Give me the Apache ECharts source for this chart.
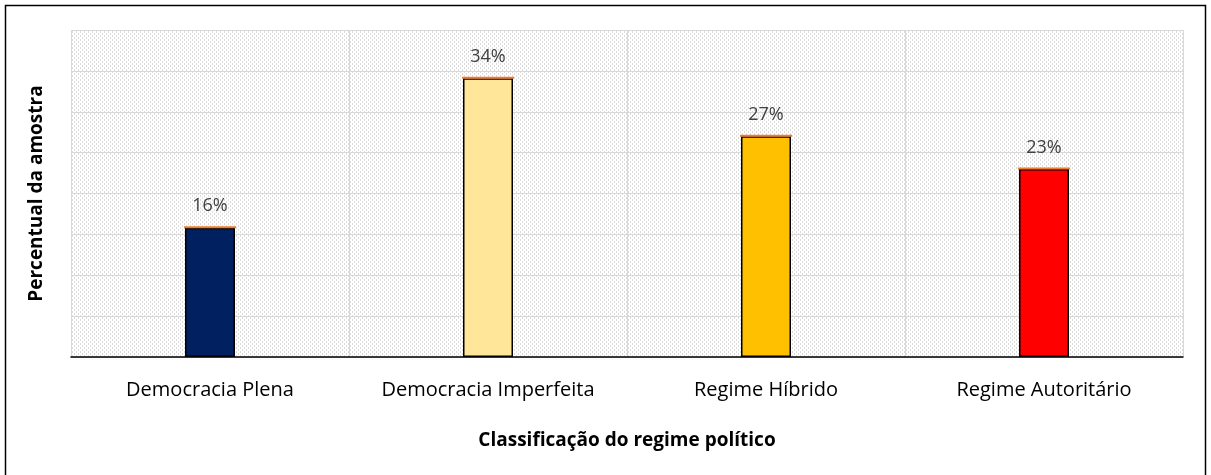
<!DOCTYPE html>
<html>
<head>
<meta charset="utf-8">
<script src="https://cdn.jsdelivr.net/npm/echarts@6/dist/echarts.min.js"></script>
<style>
  html, body { margin: 0; padding: 0; background: #fff; }
  #chart { width: 1211px; height: 475px; }
</style>
</head>
<body>
<div id="chart"></div>
<script>
// chart data
const categories = ["Democracia Plena", "Democracia Imperfeita", "Regime Híbrido", "Regime Autoritário"];
const percentValues = [15.8, 34.1, 27.0, 23.0];
const percentLabels = ["16%", "34%", "27%", "23%"];
const barColors = ["#002060", "#FFE699", "#FFC000", "#FF0000"];

// hatched background tile for the plot area
function makeHatch() {
  const c = document.createElement("canvas");
  c.width = 8;
  c.height = 8;
  const ctx = c.getContext("2d");
  ctx.fillStyle = "#ffffff";
  ctx.fillRect(0, 0, 8, 8);
  ctx.fillStyle = "#dadada";
  for (let y = 0; y < 8; y++) {
    for (let x = 0; x < 8; x++) {
      const d = (x - y + 16) % 4;
      if (d === 0 && (x + y) % 4 === 0) ctx.fillRect(x, y, 1, 1);
      if (d === 1 && (x + y) % 4 === 3) ctx.fillRect(x, y, 1, 1);
    }
  }
  return c;
}

const chart = echarts.init(document.getElementById("chart"));

const option = {
  animation: false,
  textStyle: { fontFamily: "Open Sans, Noto Sans, sans-serif" },
  graphic: [
    {
      type: "rect",
      shape: { x: 5.5, y: 5.5, width: 1200, height: 480 },
      style: { fill: "none", stroke: "#000", lineWidth: 1.5 },
      silent: true,
    },
  ],
  grid: {
    left: 71,
    right: 28,
    top: 30,
    bottom: 118,
    show: true,
    borderWidth: 0,
    backgroundColor: { image: makeHatch(), repeat: "repeat" },
  },
  xAxis: {
    type: "category",
    data: categories,
    name: "Classificação do regime político",
    nameLocation: "middle",
    nameGap: 74,
    nameTextStyle: { fontSize: 19, fontWeight: "bold", color: "#000" },
    axisLine: { lineStyle: { color: "#000", width: 1.5 } },
    axisTick: { show: false },
    axisLabel: { interval: 0, fontSize: 20, color: "#000", margin: 23 },
    splitLine: { show: true, interval: 0, lineStyle: { color: "#d9d9d9", width: 1 } },
  },
  yAxis: {
    type: "value",
    min: 0,
    max: 40,
    interval: 5,
    name: "Percentual da amostra",
    nameLocation: "middle",
    nameGap: 25,
    nameTextStyle: { fontSize: 19, fontWeight: "bold", color: "#000" },
    axisLine: { show: false },
    axisTick: { show: false },
    axisLabel: { show: false },
    splitLine: { lineStyle: { color: "#d9d9d9", width: 1 } },
  },
  series: [
    {
      type: "bar",
      barWidth: 50,
      barGap: "-100%",
      data: percentValues.map((v, i) => ({
        value: v,
        itemStyle: { color: barColors[i] },
      })),
      itemStyle: { borderColor: "#000", borderWidth: 1.5 },
      z: 2,
    },
    {
      type: "pictorialBar",
      barWidth: 50,
      barGap: "-100%",
      symbol: "rect",
      symbolSize: [52, 2],
      symbolPosition: "end",
      symbolOffset: [0, -1.5],
      itemStyle: { color: "#ED7D31" },
      data: percentValues,
      label: {
        show: true,
        position: "top",
        distance: 11,
        fontSize: 18,
        color: "#404040",
        formatter: (p) => percentLabels[p.dataIndex],
      },
      z: 3,
    },
  ],
};

chart.setOption(option);
</script>
</body>
</html>
